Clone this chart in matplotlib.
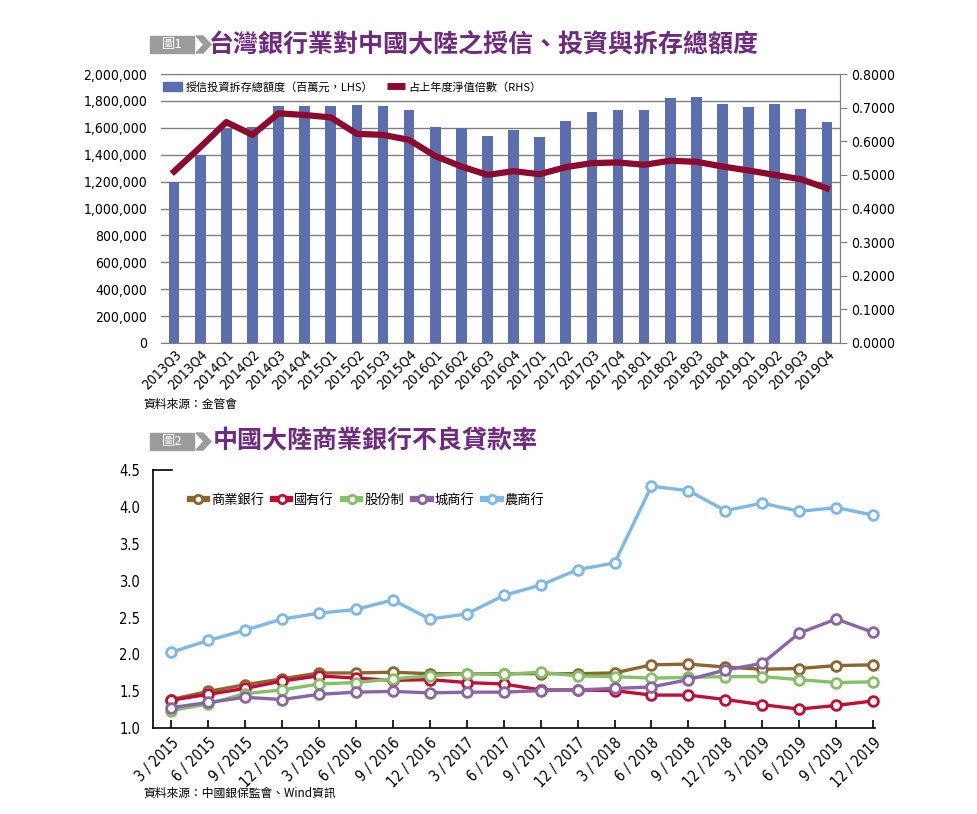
import matplotlib
matplotlib.use("Agg")
import matplotlib.pyplot as plt
from matplotlib.patches import Rectangle, Polygon, Patch
from matplotlib.lines import Line2D
from matplotlib.ticker import FuncFormatter

plt.rcParams['font.family'] = ['DejaVu Sans', 'Noto Sans CJK TC']
plt.rcParams['font.stretch'] = 'condensed'
CJK = ['Noto Sans CJK TC', 'DejaVu Sans']

# ---- chart 1 data ----
quarters = ['2013Q3', '2013Q4',
            '2014Q1', '2014Q2', '2014Q3', '2014Q4',
            '2015Q1', '2015Q2', '2015Q3', '2015Q4',
            '2016Q1', '2016Q2', '2016Q3', '2016Q4',
            '2017Q1', '2017Q2', '2017Q3', '2017Q4',
            '2018Q1', '2018Q2', '2018Q3', '2018Q4',
            '2019Q1', '2019Q2', '2019Q3', '2019Q4']
exposure = [1200000, 1400000, 1590000, 1606000, 1762000, 1762000,
            1762000, 1770000, 1762000, 1733000, 1606000, 1599000,
            1540000, 1584000, 1532000, 1651000, 1718000, 1733000,
            1733000, 1822000, 1829000, 1780000, 1755000, 1780000,
            1740000, 1644000]
net_worth_ratio = [0.510, 0.582, 0.657, 0.619, 0.683, 0.678,
                   0.671, 0.622, 0.619, 0.604, 0.556, 0.525,
                   0.500, 0.511, 0.502, 0.523, 0.535, 0.537,
                   0.530, 0.542, 0.539, 0.525, 0.513, 0.500,
                   0.487, 0.460]

# ---- chart 2 data ----
dates = ['3 / 2015', '6 / 2015', '9 / 2015', '12 / 2015',
         '3 / 2016', '6 / 2016', '9 / 2016', '12 / 2016',
         '3 / 2017', '6 / 2017', '9 / 2017', '12 / 2017',
         '3 / 2018', '6 / 2018', '9 / 2018', '12 / 2018',
         '3 / 2019', '6 / 2019', '9 / 2019', '12 / 2019']
commercial = [1.39, 1.50, 1.59, 1.67, 1.75, 1.75, 1.76, 1.74, 1.74, 1.74,
              1.74, 1.74, 1.75, 1.86, 1.87, 1.83, 1.80, 1.81, 1.85, 1.86]
state_owned = [1.38, 1.46, 1.54, 1.64, 1.71, 1.68, 1.65, 1.66, 1.62, 1.60,
               1.52, 1.52, 1.51, 1.45, 1.45, 1.39, 1.32, 1.26, 1.31, 1.37]
joint_stock = [1.24, 1.33, 1.47, 1.52, 1.60, 1.62, 1.67, 1.71, 1.74, 1.73,
               1.76, 1.71, 1.70, 1.68, 1.69, 1.70, 1.70, 1.66, 1.62, 1.63]
city = [1.28, 1.35, 1.42, 1.39, 1.46, 1.49, 1.50, 1.48, 1.49, 1.49,
        1.51, 1.52, 1.54, 1.56, 1.66, 1.79, 1.88, 2.29, 2.48, 2.30]
rural = [2.03, 2.19, 2.33, 2.48, 2.56, 2.61, 2.74, 2.48, 2.55, 2.80,
         2.94, 3.15, 3.24, 4.28, 4.22, 3.95, 4.05, 3.94, 3.99, 3.89]

series2 = [('商業銀行', commercial, '#8c6530'),
           ('國有行', state_owned, '#be0f34'),
           ('股份制', joint_stock, '#85bf68'),
           ('城商行', city, '#8b64a6'),
           ('農商行', rural, '#7db8e6')]

W, H = 978, 814
fig = plt.figure(figsize=(W / 100, H / 100), dpi=100)


def fx(px):
    return px / W


def fy(py):
    return 1 - py / H


def badge(x, y, label):
    # grey box + chevron in front of each title
    fig.patches.append(Rectangle((fx(x), fy(y + 17)), fx(44), 17 / H,
                                 transform=fig.transFigure, color='#9b9b9b'))
    xs = [x + 46, x + 53, x + 61, x + 53, x + 46, x + 54]
    ys = [y, y, y + 8.5, y + 17, y + 17, y + 8.5]
    fig.patches.append(Polygon([(fx(a), fy(b)) for a, b in zip(xs, ys)],
                               closed=True, transform=fig.transFigure, color='#9b9b9b'))
    fig.text(fx(x + 22), fy(y + 8.5), label, color='white', fontsize=9.5,
             ha='center', va='center', family=CJK)


TITLE_COLOR = '#6e2a7f'

# ================= chart 1 =================
badge(150, 36, '圖1')
fig.text(fx(209), fy(45), '台灣銀行業對中國大陸之授信、投資與拆存總額度',
         fontsize=18, fontweight='bold', color=TITLE_COLOR, va='center', family=CJK)

ax1 = fig.add_axes([fx(161), fy(343), fx(840) - fx(161), (343 - 74) / H])
x1 = list(range(len(quarters)))
ax1.bar(x1, exposure, width=0.41, color='#5b6fae', zorder=2)
ax1.set_xlim(-0.5, len(quarters) - 0.5)
ax1.set_ylim(0, 2000000)
ax1.set_yticks(range(0, 2000001, 200000))
ax1.yaxis.set_major_formatter(FuncFormatter(lambda v, p: f'{int(v):,}'))
ax1.grid(axis='y', color='#7f7f7f', lw=1, zorder=0)
ax1.set_xticks(x1)
ax1.set_xticklabels(quarters, rotation=45, ha='right', rotation_mode='anchor')
ax1.tick_params(axis='x', length=0, pad=3, labelsize=10)
ax1.tick_params(axis='y', length=0, pad=10, labelsize=10)
ax1.spines['left'].set_visible(False)
for s in ['top', 'bottom', 'right']:
    ax1.spines[s].set_color('#7f7f7f')

ax1b = ax1.twinx()
ax1b.plot(x1, net_worth_ratio, color='#8c0a2e', lw=4.5, zorder=3)
ax1b.set_ylim(0, 0.8)
ax1b.set_yticks([i / 10 for i in range(9)])
ax1b.yaxis.set_major_formatter(FuncFormatter(lambda v, p: f'{v:.4f}'))
ax1b.tick_params(axis='y', length=5, color='#7f7f7f', pad=3, labelsize=10)
for s in ['left', 'top', 'bottom']:
    ax1b.spines[s].set_visible(False)
ax1b.spines['right'].set_color('#7f7f7f')

h1 = [Patch(color='#5b6fae'),
      Line2D([], [], color='#8c0a2e', lw=5, solid_capstyle='butt')]
ax1.legend(h1, ['授信投資拆存總額度（百萬元，LHS）', '占上年度淨值倍數（RHS）'],
           loc='upper left', bbox_to_anchor=(-0.008, 1.0), ncol=2, frameon=False,
           handlelength=1.7, handleheight=0.9, handletextpad=0.3,
           columnspacing=1.2, borderaxespad=0.3,
           prop={'family': CJK, 'size': 8})

fig.text(fx(143), fy(405), '資料來源：金管會', fontsize=8.5, va='center', family=CJK)

# ================= chart 2 =================
badge(150, 433, '圖2')
fig.text(fx(213), fy(441), '中國大陸商業銀行不良貸款率',
         fontsize=18, fontweight='bold', color=TITLE_COLOR, va='center', family=CJK)

ax2 = fig.add_axes([fx(152.7), fy(728.3), fx(875) - fx(152.7), (728.3 - 470) / H])
x2 = list(range(len(dates)))
for name, vals, col in series2:
    ax2.plot(x2, vals, color=col, lw=2.4, marker='o', ms=7, mfc='white',
             mec=col, mew=2.0, label=name, clip_on=False)
ax2.set_xlim(-0.5, len(dates) - 1 + 0.05)
ax2.set_ylim(1.0, 4.5)
ax2.set_yticks([1.0, 1.5, 2.0, 2.5, 3.0, 3.5, 4.0, 4.5])
ax2.yaxis.set_major_formatter(FuncFormatter(lambda v, p: f'{v:.1f}'))
ax2.set_xticks(x2)
ax2.set_xticklabels(dates, rotation=45, ha='right', rotation_mode='anchor')
ax2.tick_params(axis='x', direction='in', length=6, width=1.2, pad=5, labelsize=10.5)
ax2.tick_params(axis='y', length=0, pad=9, labelsize=10.5)
for s in ['top', 'right']:
    ax2.spines[s].set_visible(False)
for s in ['left', 'bottom']:
    ax2.spines[s].set_linewidth(1.2)
ax2.plot([0, 0.027], [1, 1], color='black', lw=1.2, transform=ax2.transAxes,
         clip_on=False)

h2 = [Line2D([], [], color=c, lw=4.5, marker='o', ms=6, mfc='white', mec=c, mew=2)
      for _, _, c in series2]
ax2.legend(h2, [n for n, _, _ in series2], loc='upper left',
           bbox_to_anchor=(0.035, 0.955), ncol=5, frameon=False,
           handlelength=1.3, handletextpad=0.3, columnspacing=0.7,
           prop={'family': CJK, 'size': 9.5})

fig.text(fx(143), fy(793), '資料來源：中國銀保監會、Wind資訊', fontsize=8.5,
         va='center', family=CJK)

fig.savefig('out.png', dpi=100)
